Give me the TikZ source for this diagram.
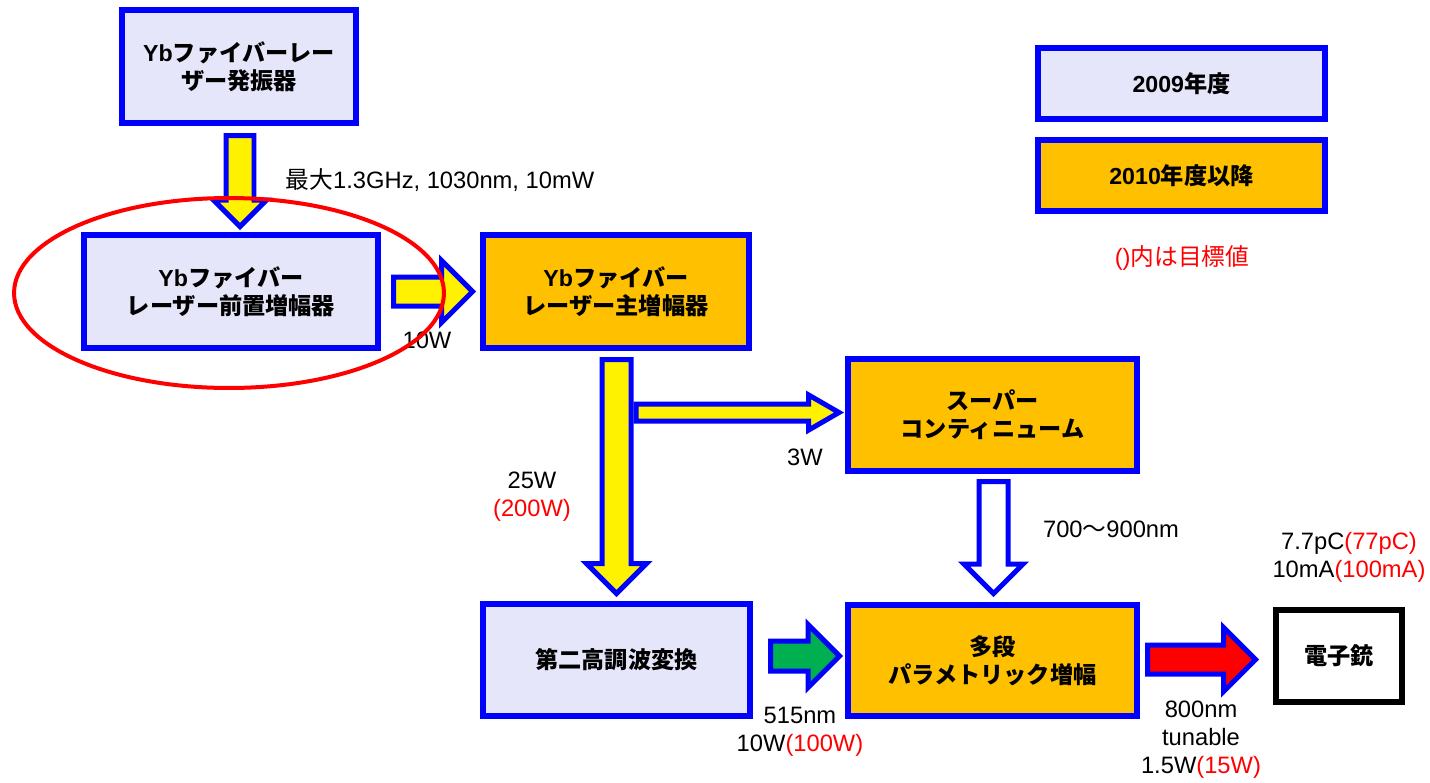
\documentclass[tikz,border=0pt]{standalone}
\usepackage{fontspec}
\setmainfont{Liberation Sans}
\newfontfamily\jp{Noto Sans CJK JP}
\usetikzlibrary{calc}
\usetikzlibrary{shapes.arrows}
\definecolor{stageblue}{RGB}{0,0,255}
\definecolor{stagelav}{RGB}{230,230,251}
\definecolor{stageorange}{RGB}{255,192,0}
\definecolor{shgreen}{RGB}{0,176,80}
\newcommand{\J}[1]{{\jp #1}}
\newcommand{\tgt}[1]{\textcolor{red}{#1}}
\tikzset{%
  stage/.style={rectangle, draw=stageblue, line width=0.12cm, fill=stagelav, align=center, inner sep=0pt, font=\fontsize{13.2}{16}\selectfont\bfseries},
  newstage/.style={stage, fill=stageorange},
  beam/.style={single arrow, draw=stageblue, line width=0.1cm, inner sep=0pt, outer sep=0pt, anchor=tip},
  lbl/.style={align=center, inner sep=0pt, font=\fontsize{13.5}{15.9}\selectfont}
}

\begin{document}
\begin{tikzpicture}[x=0.02cm, y=-0.02cm]
  \useasboundingbox (0,0) rectangle (1430,782);

  % stages
  \node[stage, minimum width=4.68cm, minimum height=2.26cm] (osc) at (239,66.5) {Yb\J{ファイバーレー}\\\J{ザー発振器}};
  \node[stage, minimum width=5.88cm, minimum height=2.26cm] (pre) at (231,291.5) {Yb\J{ファイバー}\\\J{レーザー前置増幅器}};
  \node[newstage, minimum width=5.32cm, minimum height=2.26cm] (main) at (616,291.5) {Yb\J{ファイバー}\\\J{レーザー主増幅器}};
  \node[newstage, minimum width=5.78cm, minimum height=2.24cm] (sc) at (992.5,415) {\J{スーパー}\\\J{コンティニューム}};
  \node[stage, minimum width=5.34cm, minimum height=2.24cm] (shg) at (616.5,660) {\J{第二高調波変換}};
  \node[newstage, minimum width=5.78cm, minimum height=2.22cm] (opa) at (992.5,660.5) {\J{多段}\\\J{パラメトリック増幅}};
  \node[stage, draw=black, fill=white, minimum width=2.52cm, minimum height=1.84cm] (gun) at (1339,656) {\J{電子銃}};

  % legend
  \node[stage, minimum width=5.74cm, minimum height=1.42cm] (y2009) at (1181.5,83.5) {2009\J{年度}};
  \node[newstage, minimum width=5.74cm, minimum height=1.42cm] (y2010) at (1181.5,175.5) {2010\J{年度以降}};
  \node[lbl, text=red] (note) at (1182,258) {()\J{内は目標値}};

  % beams
  \node[beam, fill=yellow, rotate=-90, minimum height=1.82cm, inner ysep=0.23cm, single arrow head extend=0.25cm] (b1) at ($(osc.south |- pre.north)+(1,-5.5)$) {};
  \node[beam, fill=yellow, minimum height=1.58cm, inner ysep=0.24cm, single arrow head extend=0.33cm] (b2) at ($(main.west)+(-7.5,0)$) {};
  \node[beam, fill=yellow, rotate=-90, minimum height=4.68cm, inner ysep=0.24cm, single arrow head extend=0.31cm] (b3) at ($(shg.north)+(0,-7.5)$) {};
  \node[beam, fill=yellow, minimum height=4.06cm, inner ysep=0.12cm, single arrow head extend=0.18cm, single arrow tip angle=60] (b4) at ($(sc.west)+(-6,-2.5)$) {};
  \node[beam, fill=white, rotate=-90, minimum height=2.24cm, inner ysep=0.24cm, single arrow head extend=0.30cm] (b5) at ($(opa.north)+(1,-8.5)$) {};
  \node[beam, fill=shgreen, minimum height=1.38cm, inner ysep=0.25cm, single arrow head extend=0.33cm] (b6) at ($(opa.west)+(-5.5,-4.5)$) {};
  \node[beam, fill=red, minimum height=2.16cm, inner ysep=0.24cm, single arrow head extend=0.35cm] (b7) at ($(gun.west)+(-17.5,3.5)$) {};

  % labels
  \node[lbl] (rate) at (440,180) {\J{最大}1.3GHz, 1030nm, 10mW};
  \node[lbl] (p10) at (427,340) {10W};
  \node[lbl] (p25) at (532,497) {25W\\\tgt{(200W)}};
  \node[lbl] (p3) at (805,457) {3W};
  \node[lbl] (band) at (1111,529) {700\J{〜}900nm};
  \node[lbl] (green) at (800,732) {515nm\\10W\tgt{(100W)}};
  \node[lbl] (tune) at (1201,740) {800nm\\tunable\\1.5W\tgt{(15W)}};
  \node[lbl] (charge) at (1349,557.5) {7.7pC\tgt{(77pC)}\\10mA\tgt{(100mA)}};

  % this work
  \draw[red, line width=0.08cm] (229,293) ellipse [x radius=4.3cm, y radius=1.9cm];
\end{tikzpicture}
\end{document}
